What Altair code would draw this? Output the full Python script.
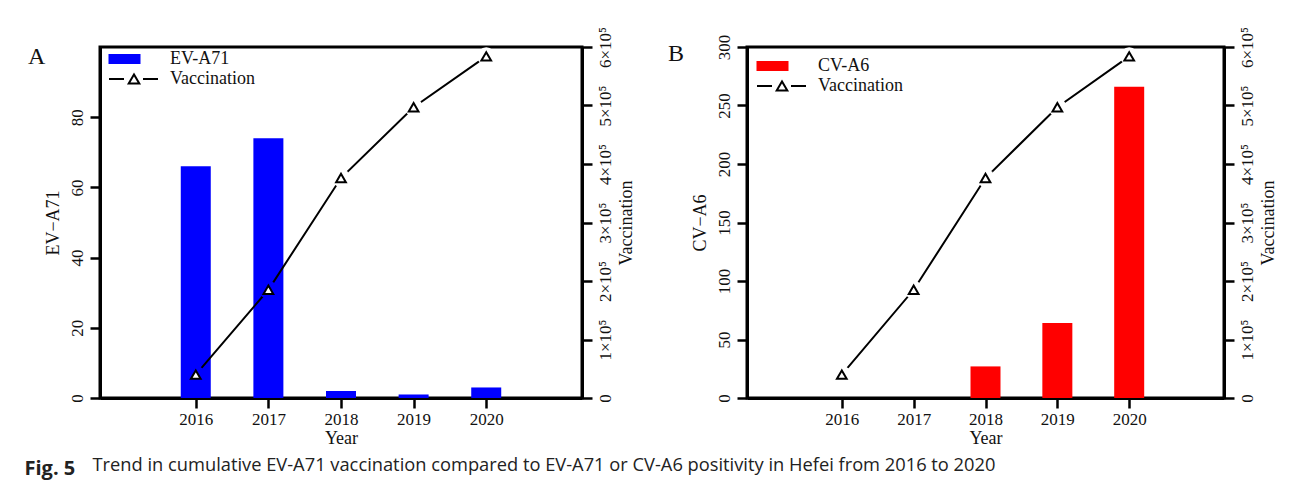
import altair as alt
import pandas as pd

years = [2016, 2017, 2018, 2019, 2020]
ev_a71 = [66, 74, 2, 1, 3]
cv_a6 = [0, 0, 27, 64, 266]
vaccination = [40000, 185000, 376000, 497000, 584000]

series_a = ["EV-A71", "Vaccination"]
series_b = ["CV-A6", "Vaccination"]
ytitle_a = "EV\u2212A71"
ytitle_b = "CV\u2212A6"
yticks_a = [0, 20, 40, 60, 80]
yticks_b = [0, 50, 100, 150, 200, 250, 300]
vacc_ticks = [0, 100000, 200000, 300000, 400000, 500000, 600000]
caption_bold = "Fig. 5"
caption_text = ("Trend in cumulative EV-A71 vaccination compared to EV-A71 or "
                "CV-A6 positivity in Hefei from 2016 to 2020")

SERIF = "Liberation Serif"
SANS = "Open Sans"
RECT_PATH = "M-2.45,-0.4H0.55V0.4H-2.45Z"
LINE_PATH = "M-2.5,0H-1.0M-0.53,0.45L0,-0.45L0.53,0.45ZM0.9,0H2.4"
VMAX = 600000


def panel(key, letter, counts, names, color, ytitle, yticks, ymax, width, height,
          letter_dx, letter_dy, leg_x, leg_y, leg_pad):
    df = pd.DataFrame({"Year": years, "Count": counts, "Vaccination": vaccination})
    xenc = alt.X(
        "Year:Q",
        scale=alt.Scale(domain=[2014.75, 2021.25], nice=False, zero=False),
        axis=alt.Axis(values=years, format="d", title="Year",
                      labelPadding=3, titlePadding=2),
    )
    bars = alt.Chart(df).mark_bar(size=30, color=color, opacity=1).encode(
        x=xenc,
        y=alt.Y("Count:Q", scale=alt.Scale(domain=[0, ymax], nice=False),
                axis=alt.Axis(values=yticks, title=ytitle, orient="left",
                              labelAngle=270, labelPadding=4, titlePadding=6)),
    )
    vaxis = alt.Axis(orient="right", values=vacc_ticks, title="Vaccination",
                     labelExpr="datum.value == 0 ? '0' : format(datum.value / 100000, 'd') + '\u00d710\u2075'",
                     labelAngle=270, titleAngle=270, titleBaseline="top",
                     labelPadding=5, titlePadding=4)
    vy = alt.Y("Vaccination:Q", scale=alt.Scale(domain=[0, VMAX], nice=False), axis=vaxis)
    line = alt.Chart(df).mark_line(color="black", strokeWidth=2).encode(x=xenc, y=vy)
    halo = alt.Chart(df).transform_calculate(
        halo=f"datum.Count / {ymax} > datum.Vaccination / {VMAX} ? '{color}' : 'white'"
    ).mark_point(shape="circle", filled=True, size=330, opacity=1, strokeWidth=0).encode(
        x=xenc, y=vy, fill=alt.Fill("halo:N", scale=None)
    )
    tri = alt.Chart(df).mark_point(
        shape="triangle-up", filled=True, fill="white", stroke="black",
        strokeWidth=2, size=95, opacity=1
    ).encode(x=xenc, y=vy)

    legend = alt.Legend(
        title=None, orient="none", legendX=leg_x, legendY=leg_y,
        symbolSize=400, symbolStrokeWidth=2, symbolOpacity=1,
        labelFont=SERIF, labelFontSize=18, labelColor="#111",
        labelOffset=25, rowPadding=leg_pad,
    )
    leg_df = pd.DataFrame({key: names})
    leg = alt.Chart(leg_df).transform_filter("false").mark_point(
        filled=True, size=400, opacity=1, strokeWidth=2
    ).encode(
        shape=alt.Shape(f"{key}:N", scale=alt.Scale(domain=names, range=[RECT_PATH, LINE_PATH]), legend=legend),
        fill=alt.Fill(f"{key}:N", scale=alt.Scale(domain=names, range=[color, "white"]), legend=legend),
        stroke=alt.Stroke(f"{key}:N", scale=alt.Scale(domain=names, range=[color, "black"]), legend=legend),
    )
    return alt.layer(bars, alt.layer(line, halo, tri), leg).resolve_scale(
        y="independent"
    ).properties(
        width=width, height=height,
        title=alt.TitleParams(letter, anchor="start", frame="group", orient="top",
                              dx=letter_dx, dy=letter_dy, font=SERIF, fontSize=24,
                              fontWeight="normal", color="#111"),
    )


pa = panel("series_a", "A", ev_a71, series_a, "#0000FF", ytitle_a, yticks_a, 100, 482, 351,
           -72, 47, 23, 1, -2)
pb = panel("series_b", "B", cv_a6, series_b, "#FF0000", ytitle_b, yticks_b, 300, 477, 351,
           -79, 44, 24, 8, -6)

hc = alt.hconcat(pa, pb, spacing=29).resolve_scale(
    shape="independent", fill="independent", stroke="independent"
).resolve_legend(
    shape="independent", fill="independent", stroke="independent"
).properties(
    title=alt.TitleParams(caption_bold, orient="bottom", anchor="start",
                          font=SANS, fontSize=20, fontWeight="bold", color="#222",
                          offset=10, dx=-2)
)

chart = alt.vconcat(hc).properties(
    title=alt.TitleParams(caption_text, orient="bottom", anchor="start",
                          font=SANS, fontSize=18.3, fontWeight="normal", color="#222",
                          dx=68, dy=-26),
    padding={"left": 16, "top": 16, "right": 5, "bottom": 5},
).configure_view(
    stroke="black", strokeWidth=3
).configure_axis(
    domainColor="black", domainWidth=3, tickColor="black", tickWidth=2.5,
    tickSize=10, grid=False, labelFont=SERIF, labelFontSize=17, labelColor="#111",
    titleFont=SERIF, titleFontSize=18, titleFontWeight="normal", titleColor="#111",
).configure_concat(spacing=29)

chart.save("out.html", embed_options={"renderer": "svg", "actions": False})
